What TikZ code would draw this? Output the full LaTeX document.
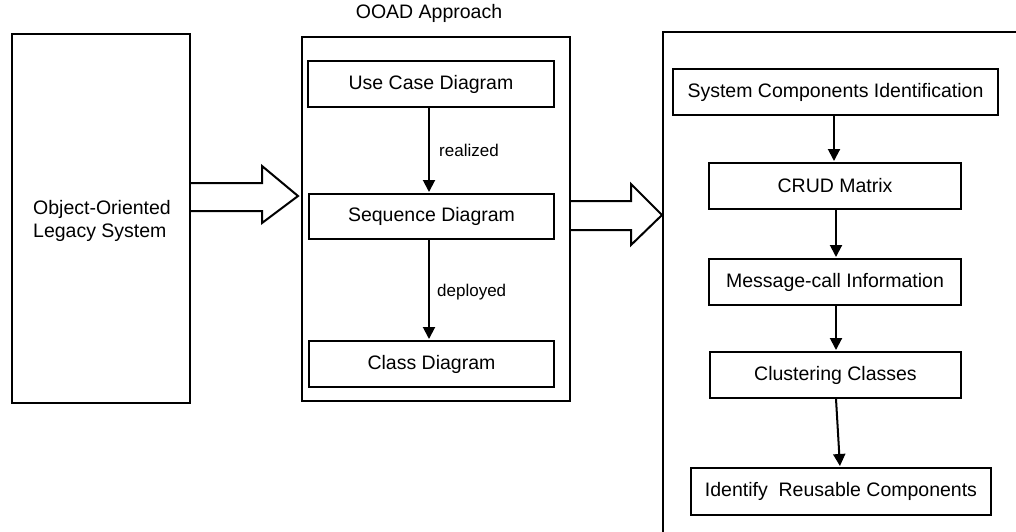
\documentclass[tikz,border=0pt]{standalone}
\usepackage{fontspec}
\setmainfont{Liberation Sans}
\usetikzlibrary{arrows.meta}
\begin{document}
\begin{tikzpicture}[x=1pt,y=-1pt,
  box/.style={draw=black,line width=2pt,inner sep=0pt,anchor=north west,font=\fontsize{19.5}{23}\selectfont},
  lbl/.style={font=\fontsize{17}{20}\selectfont,anchor=west,inner sep=0pt},
  flow/.style={draw=black,line width=2pt,-{Triangle[length=12pt,width=12pt]},shorten >=1pt},
  fat/.style={draw=black,line width=2pt,fill=white,line join=miter}]
\useasboundingbox (0,0) rectangle (1016,532);
% left box
\node[box,minimum width=178pt,minimum height=369pt] (legacy) at (11,33) {};
\node[font=\fontsize{19.5}{23}\selectfont,align=left,anchor=west,inner sep=0pt] (legtxt) at (33,221) {Object-Oriented\\Legacy System};
% OOAD box
\node[box,minimum width=268pt,minimum height=364pt] (ooad) at (301,36) {};
\node[font=\fontsize{19.5}{22}\selectfont,inner sep=0pt] (ooadt) at (429,13) {OOAD Approach};
\node[box,minimum width=246pt,minimum height=46pt] (uc) at (307,60) {Use Case Diagram};
\node[box,minimum width=245pt,minimum height=45pt] (sd) at (308,193) {Sequence Diagram};
\node[box,minimum width=245pt,minimum height=46pt] (cd) at (308,340) {Class Diagram};
\draw[flow] (uc.south -| 429,0) -- (sd.north -| 429,0);
\draw[flow] (sd.south -| 429,0) -- (cd.north -| 429,0);
\node[lbl] (realized) at (439,150) {realized};
\node[lbl] (deployed) at (437,292) {deployed};
% right panel
\coordinate (rpA) at (663,532);
\coordinate (rpB) at (663,32);
\coordinate (rpC) at (1016,32);
\draw[line width=2pt] (rpA) -- (rpB) -- (rpC);
\node[box,minimum width=325pt,minimum height=46pt] (sci) at (672,68) {System Components Identification};
\node[box,minimum width=252pt,minimum height=46pt] (crud) at (708,162) {CRUD Matrix};
\node[box,minimum width=252pt,minimum height=46pt] (msg) at (708,258) {Message-call Information};
\node[box,minimum width=251pt,minimum height=46pt] (clu) at (709,351) {Clustering Classes};
\node[box,minimum width=300pt,minimum height=47pt] (irc) at (690,467) {Identify\ \ Reusable Components};
\draw[flow] (sci.south -| 834,0) -- (crud.north -| 834,0);
\draw[flow] (crud.south -| 836,0) -- (msg.north -| 836,0);
\draw[flow] (msg.south -| 836,0) -- (clu.north -| 836,0);
\draw[flow] (clu.south -| 836,0) -- (irc.north -| 840,0);
% fat arrows
\draw[fat] (legacy.east |- 0,183) -- (262,183) -- (262,166) -- (298,196) -- (262,223) -- (262,211) -- (legacy.east |- 0,211);
\draw[fat] (ooad.east |- 0,201) -- (631,201) -- (631,184) -- (662,215) -- (631,245) -- (631,230) -- (ooad.east |- 0,230);
\end{tikzpicture}
\end{document}
